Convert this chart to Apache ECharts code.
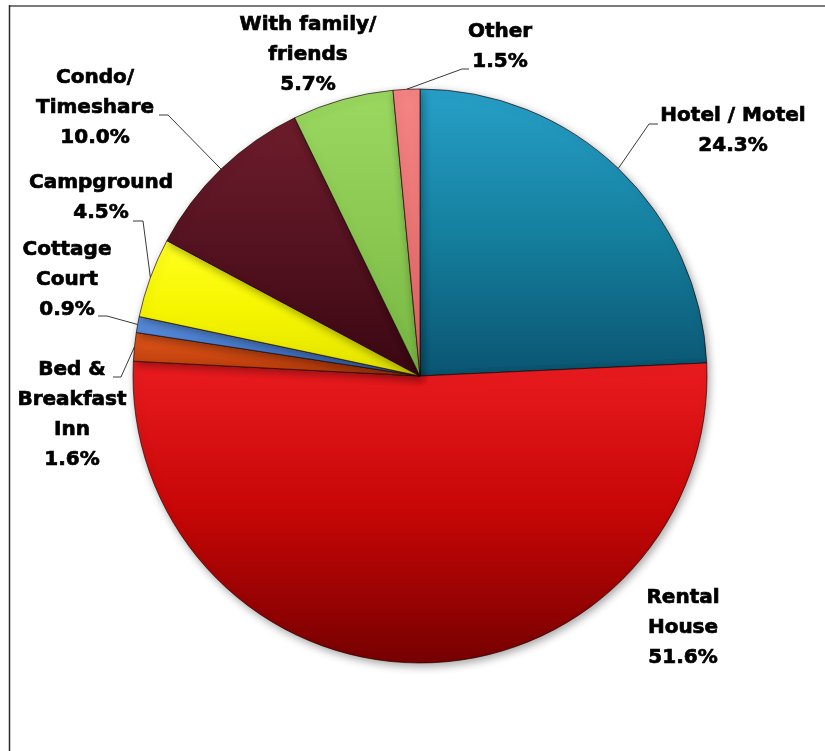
<!DOCTYPE html>
<html>
<head>
<meta charset="utf-8">
<title>Accommodation type</title>
<script src="https://cdn.jsdelivr.net/npm/echarts@6/dist/echarts.min.js"></script>
<style>
  html, body { margin: 0; padding: 0; background: #ffffff; }
  #chart { width: 825px; height: 751px; }
</style>
</head>
<body>
<div id="chart"></div>
<script>
// Lodging categories, clockwise from 12 o'clock
const categories = [
  'Hotel / Motel',
  'Rental\nHouse',
  'Bed &\nBreakfast\nInn',
  'Cottage\nCourt',
  'Campground',
  'Condo/\nTimeshare',
  'With family/\nfriends',
  'Other'
];
// Share of respondents, percent
const shares = [24.3, 51.6, 1.6, 0.9, 4.5, 10.0, 5.7, 1.5];

// Slice shading: [light top, mid, dark bottom]
const sliceColors = [
  ['#27a0c8', '#15809f', '#0a5571'],
  ['#ea1c20', '#c70606', '#760000'],
  ['#e2581a', '#cc4812', '#b3380a'],
  ['#5c92e2', '#4a7ed0', '#3766bd'],
  ['#ffff22', '#f6f600', '#e2e200'],
  ['#6e1d2c', '#541220', '#3a0712'],
  ['#9ad860', '#8ac852', '#76b642'],
  ['#f58484', '#ea7474', '#de6464']
];

// Label block centres and leader-line ends (null = no leader line)
const labelSpots = [
  { x: 733, y: 131, end: [658, 124], elbow: 649 },
  { x: 683, y: 628, end: null },
  { x: 72,  y: 415, end: [113, 377], elbow: 121 },
  { x: 67,  y: 280, end: [98, 316],  elbow: 107 },
  { x: 101, y: 198, end: [133, 221], elbow: 143 },
  { x: 95,  y: 108, end: [159, 115], elbow: 168 },
  { x: 308, y: 55,  end: null },
  { x: 500, y: 47,  end: [469, 69],  elbow: 462 }
];

const chart = echarts.init(document.getElementById('chart'), null, { renderer: 'canvas' });

const seriesData = categories.map((name, i) => ({
  name: name,
  value: shares[i],
  itemStyle: {
    color: {
      type: 'linear', x: 0, y: 0, x2: 0, y2: 1,
      colorStops: [
        { offset: 0, color: sliceColors[i][0] },
        { offset: 0.5, color: sliceColors[i][1] },
        { offset: 1, color: sliceColors[i][2] }
      ]
    }
  },
  labelLine: { show: labelSpots[i].end !== null }
}));

chart.setOption({
  backgroundColor: '#ffffff',
  animation: false,
  graphic: [
    { type: 'line', shape: { x1: 9, y1: 6, x2: 825, y2: 6 },
      style: { stroke: '#7a7a7a', lineWidth: 2 }, silent: true },
    { type: 'line', shape: { x1: 9.5, y1: 5, x2: 9.5, y2: 751 },
      style: { stroke: '#2a2a2a', lineWidth: 1.5 }, silent: true }
  ],
  series: [{
    type: 'pie',
    center: [420, 376],
    radius: [0, 287],
    startAngle: 90,
    clockwise: true,
    avoidLabelOverlap: false,
    data: seriesData,
    itemStyle: {
      borderColor: 'rgba(25,0,0,0.65)',
      borderWidth: 1,
      shadowBlur: 8,
      shadowOffsetX: 2,
      shadowOffsetY: 3,
      shadowColor: 'rgba(0,0,0,0.35)'
    },
    label: {
      show: true,
      position: 'outside',
      color: '#000000',
      fontFamily: 'DejaVu Sans',
      fontWeight: 'bold',
      fontSize: 20,
      lineHeight: 30,
      align: 'center',
      textBorderColor: '#000000',
      textBorderWidth: 0.7,
      formatter: p => p.name + '\n' + p.value.toFixed(1) + '%'
    },
    labelLine: {
      show: true,
      length: 6,
      length2: 6,
      lineStyle: { color: '#3a3a3a', width: 1 }
    },
    labelLayout: function (params) {
      const spot = labelSpots[params.dataIndex];
      const out = { x: spot.x, y: spot.y, align: 'center', verticalAlign: 'middle' };
      if (spot.end && params.labelLinePoints) {
        const start = params.labelLinePoints[0];
        out.labelLinePoints = [
          [start[0], start[1]],
          [spot.elbow, spot.end[1]],
          [spot.end[0], spot.end[1]]
        ];
      }
      return out;
    }
  }]
});
</script>
</body>
</html>
